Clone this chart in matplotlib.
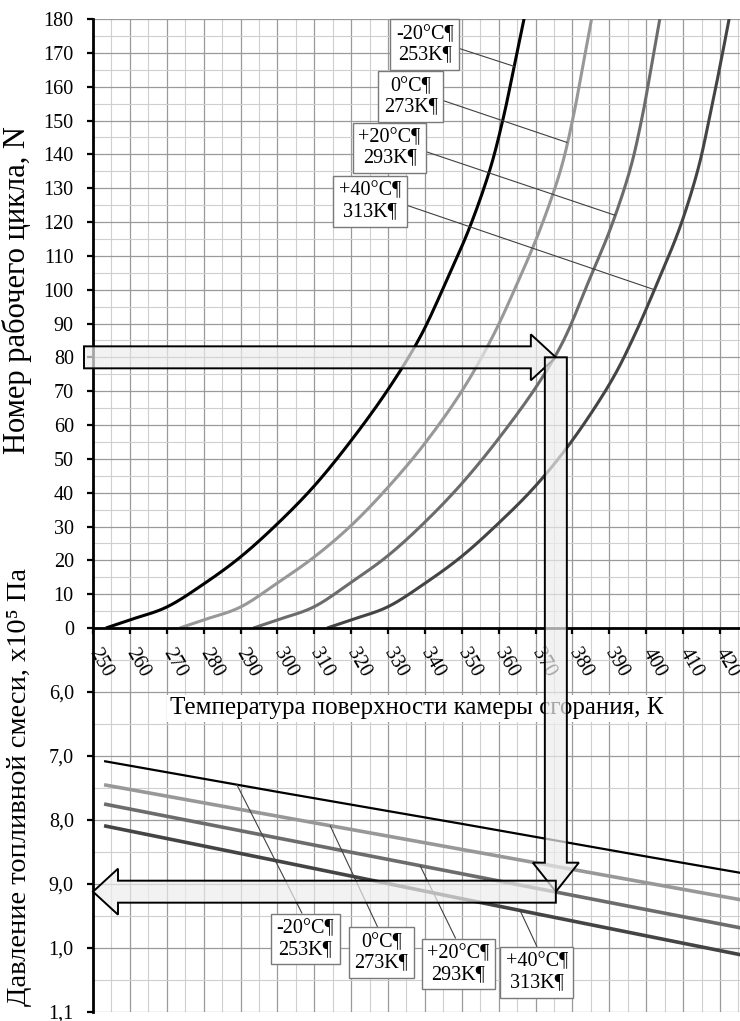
import numpy as np
import matplotlib.pyplot as plt
from matplotlib.patches import Polygon
from matplotlib.ticker import MultipleLocator
from matplotlib.transforms import IdentityTransform

plt.rcParams['font.family'] = ['Liberation Serif', 'DejaVu Serif']

# ---- data ----
series_c = ['-20°C¶', '0°C¶', '+20°C¶', '+40°C¶']
series_k = ['253K¶', '273K¶', '293K¶', '313K¶']

# working cycle number N vs combustion chamber wall temperature T, K
t_253 = [253.5, 260, 270, 280, 290, 300, 310, 320, 330, 338.7, 346, 352.2, 357.6, 361.3, 364.2, 367]
n_253 = [0, 2.4, 6.2, 13, 21, 30.8, 42, 55.4, 70.5, 86, 103, 118.6, 135.4, 151, 166, 180.7]
t_273 = [273.5, 280, 290, 300, 310, 320, 330, 340, 350, 358.3, 365.5, 371.5, 376.8, 380.2, 382.8, 385.3]
n_273 = [0, 2.4, 6.2, 13.3, 21, 30.3, 41.6, 54.6, 70, 86, 103, 118.6, 135.4, 151, 166, 180.7]
t_293 = [293.5, 300, 310, 320, 330, 340, 350, 360, 370, 377.6, 384.6, 390.5, 395.6, 398.9, 401.4, 403.8]
n_293 = [0, 2.4, 6.3, 13.5, 21.4, 31.3, 42.7, 56, 71, 85, 103, 118.6, 135.4, 151, 166, 180.7]
t_313 = [313.5, 320, 330, 340, 350, 360, 370, 380, 390, 396.6, 403.4, 409.2, 414, 417.2, 420, 422.6]
n_313 = [0, 2.4, 6.3, 13.2, 21.2, 31, 42, 55.5, 72, 86, 103, 118.6, 135.4, 151, 166, 180.7]

# fuel mixture pressure (x10^5 Pa) vs T
t_p = [253, 300, 350, 400, 426]
p_253 = [0.708, 0.756, 0.806, 0.857, 0.883]
p_273 = [0.745, 0.794, 0.846, 0.898, 0.925]
p_293 = [0.775, 0.828, 0.884, 0.940, 0.969]
p_313 = [0.809, 0.864, 0.923, 0.981, 1.011]

x_ticks = list(range(250, 421, 10))
n_ticks = list(range(0, 181, 10))
p_ticks = [0.6, 0.7, 0.8, 0.9, 1.0, 1.1]
p_tick_labels = ['6,0', '7,0', '8,0', '9,0', '1,0', '1,1']

# reading shown by the block arrows
n_read = 80
t_read = 375.5
p_read = 0.912

# ---- styles / layout ----
colors = ['#000000', '#989898', '#6c6c6c', '#444444']
top_lw = [2.2, 2.2, 2.2, 2.2]
bot_lw = [1.6, 2.6, 2.6, 2.6]
# leader targets (on curves) and label box centres
top_tgt_n = [166, 143.5, 122, 100]
top_box = [(340.0, 172.4), (336.2, 157.0), (330.4, 141.9), (325.1, 126.1)]
bot_tgt_t = [289, 314.3, 338.7, 365.8]
bot_box = [(307.5, 0.986), (328.2, 1.007), (349.1, 1.025), (370.3, 1.038)]
bot_relpos = [(0.5, 1), (0.48, 1), (0.5, 1), (0.55, 1)]

W, H = 740, 1021
x_left, x_right = 93, 740
y_top, y_mid, y_bot = 19, 628, 1012
x_max = 250 + (x_right - x_left) / 3.688


def smooth(x, y, steps=16):
    """Catmull-Rom pass through the read points, like Excel's smoothed line."""
    p = np.column_stack([x, y]).astype(float)
    p = np.vstack([2 * p[0] - p[1], p, 2 * p[-1] - p[-2]])
    s = np.linspace(0, 1, steps, endpoint=False)[:, None]
    out = []
    for i in range(1, len(p) - 2):
        p0, p1, p2, p3 = p[i - 1], p[i], p[i + 1], p[i + 2]
        out.append(0.5 * (2 * p1 + (p2 - p0) * s + (2 * p0 - 5 * p1 + 4 * p2 - p3) * s ** 2
                          + (3 * p1 - p0 - 3 * p2 + p3) * s ** 3))
    out.append(p[-2][None])
    out = np.vstack(out)
    return out[:, 0], out[:, 1]


fig = plt.figure(figsize=(W / 100, H / 100), dpi=100)
ax_bot = fig.add_axes([x_left / W, (H - y_bot) / H, (x_right - x_left) / W, (y_bot - y_mid) / H])
ax_top = fig.add_axes([x_left / W, (H - y_mid) / H, (x_right - x_left) / W, (y_mid - y_top) / H])
ax_bot.set_zorder(1)
ax_top.set_zorder(2)
ax_top.patch.set_alpha(0)

t_curves = [t_253, t_273, t_293, t_313]
n_curves = [n_253, n_273, n_293, n_313]
p_lines = [p_253, p_273, p_293, p_313]

for ax in (ax_top, ax_bot):
    ax.set_xlim(250, x_max)
    ax.xaxis.set_major_locator(MultipleLocator(10))
    ax.xaxis.set_minor_locator(MultipleLocator(5))
    ax.grid(which='major', color='#9a9a9a', lw=0.9)
    ax.grid(which='minor', color='#cfcfcf', lw=0.8)
    ax.set_axisbelow(True)
    for s in ('top', 'right'):
        ax.spines[s].set_visible(False)
    ax.spines['left'].set_linewidth(2)

# top panel
ax_top.set_ylim(0, 180)
ax_top.set_yticks(n_ticks)
ax_top.yaxis.set_minor_locator(MultipleLocator(5))
ax_top.spines['bottom'].set_linewidth(2)
ax_top.set_xticks(x_ticks)
ax_top.set_xticklabels([str(v) for v in x_ticks], rotation=-60, ha='left', va='center',
                       rotation_mode='anchor')
ax_top.tick_params(axis='both', which='major', labelsize=14.5, length=4.3, width=1.6)
ax_top.tick_params(axis='y', which='major', pad=9.5)
ax_top.tick_params(axis='x', which='major', pad=11.5)
ax_top.tick_params(which='minor', length=0)
for t, n, c, lw in zip(t_curves, n_curves, colors, top_lw):
    ts, ns = smooth(t, n)
    ax_top.plot(ts, ns, color=c, lw=lw, solid_capstyle='butt')
ax_top.set_ylabel('Номер рабочего цикла, N', fontsize=22)
ax_top.yaxis.set_label_coords(-0.094, 0.555)

box_style = dict(boxstyle='square,pad=0.28', fc='white', ec='#7a7a7a', lw=1)
for i in range(4):
    tgt_t = np.interp(top_tgt_n[i], n_curves[i], t_curves[i])
    ax_top.annotate(series_c[i] + '\n' + series_k[i], xy=(tgt_t, top_tgt_n[i]), xytext=top_box[i],
                    ha='center', va='center', fontsize=14.5, linespacing=1.1, bbox=box_style,
                    arrowprops=dict(arrowstyle='-', color='#404040', lw=0.8, relpos=(1, 0.45),
                                    shrinkA=0, shrinkB=0))

# bottom panel
ax_bot.set_ylim(1.1, 0.5)
ax_bot.set_yticks(p_ticks)
ax_bot.set_yticklabels(p_tick_labels)
ax_bot.yaxis.set_minor_locator(MultipleLocator(0.05))
ax_bot.spines['bottom'].set_visible(False)
ax_bot.tick_params(axis='x', which='both', length=0, labelbottom=False)
ax_bot.tick_params(axis='y', which='major', labelsize=14.5, length=4.3, width=1.6, pad=9.5)
ax_bot.tick_params(axis='y', which='minor', length=0)
for p, c, lw in zip(p_lines, colors, bot_lw):
    ax_bot.plot(t_p, p, color=c, lw=lw, solid_capstyle='butt')
ax_bot.set_ylabel('Давление топливной смеси, x10⁵ Па', fontsize=20.5)
ax_bot.yaxis.set_label_coords(-0.094, 0.586)

for i in range(4):
    tgt_p = np.interp(bot_tgt_t[i], t_p, p_lines[i])
    ax_bot.annotate(series_c[i] + '\n' + series_k[i], xy=(bot_tgt_t[i], tgt_p), xytext=bot_box[i],
                    ha='center', va='center', fontsize=14.5, linespacing=1.1, bbox=box_style,
                    arrowprops=dict(arrowstyle='-', color='#404040', lw=0.8, relpos=bot_relpos[i],
                                    shrinkA=0, shrinkB=0))

fig.text(416.5 / W, (H - 708) / H, 'Температура поверхности камеры сгорания, К', fontsize=18,
         ha='center', va='center', zorder=3,
         bbox=dict(boxstyle='square,pad=0.1', fc='white', ec='none'))

# block arrows in pixel space
body, head, head_len = 11, 23, 25
xs, yn = ax_top.transData.transform((250, n_read))
xt, _ = ax_top.transData.transform((t_read, n_read))
_, yp = ax_bot.transData.transform((t_read, p_read))
xl = xs - 9

arrows = [
    [(xl, yn + body), (xt - head_len, yn + body), (xt - head_len, yn + head), (xt, yn),
     (xt - head_len, yn - head), (xt - head_len, yn - body), (xl, yn - body)],
    [(xt - body, yn), (xt + body, yn), (xt + body, yp + head_len + 4), (xt + head, yp + head_len + 4),
     (xt, yp), (xt - head, yp + head_len + 4), (xt - body, yp + head_len + 4)],
    [(xt, yp + body), (xs + head_len, yp + body), (xs + head_len, yp + head), (xs, yp),
     (xs + head_len, yp - head), (xs + head_len, yp - body), (xt, yp - body)],
]
for pts in arrows:
    fig.add_artist(Polygon(pts, closed=True, transform=IdentityTransform(),
                           fc=(0.93, 0.93, 0.93, 0.7), ec='black', lw=1.4, zorder=4))

fig.savefig('out.png', dpi=100, facecolor='white')
